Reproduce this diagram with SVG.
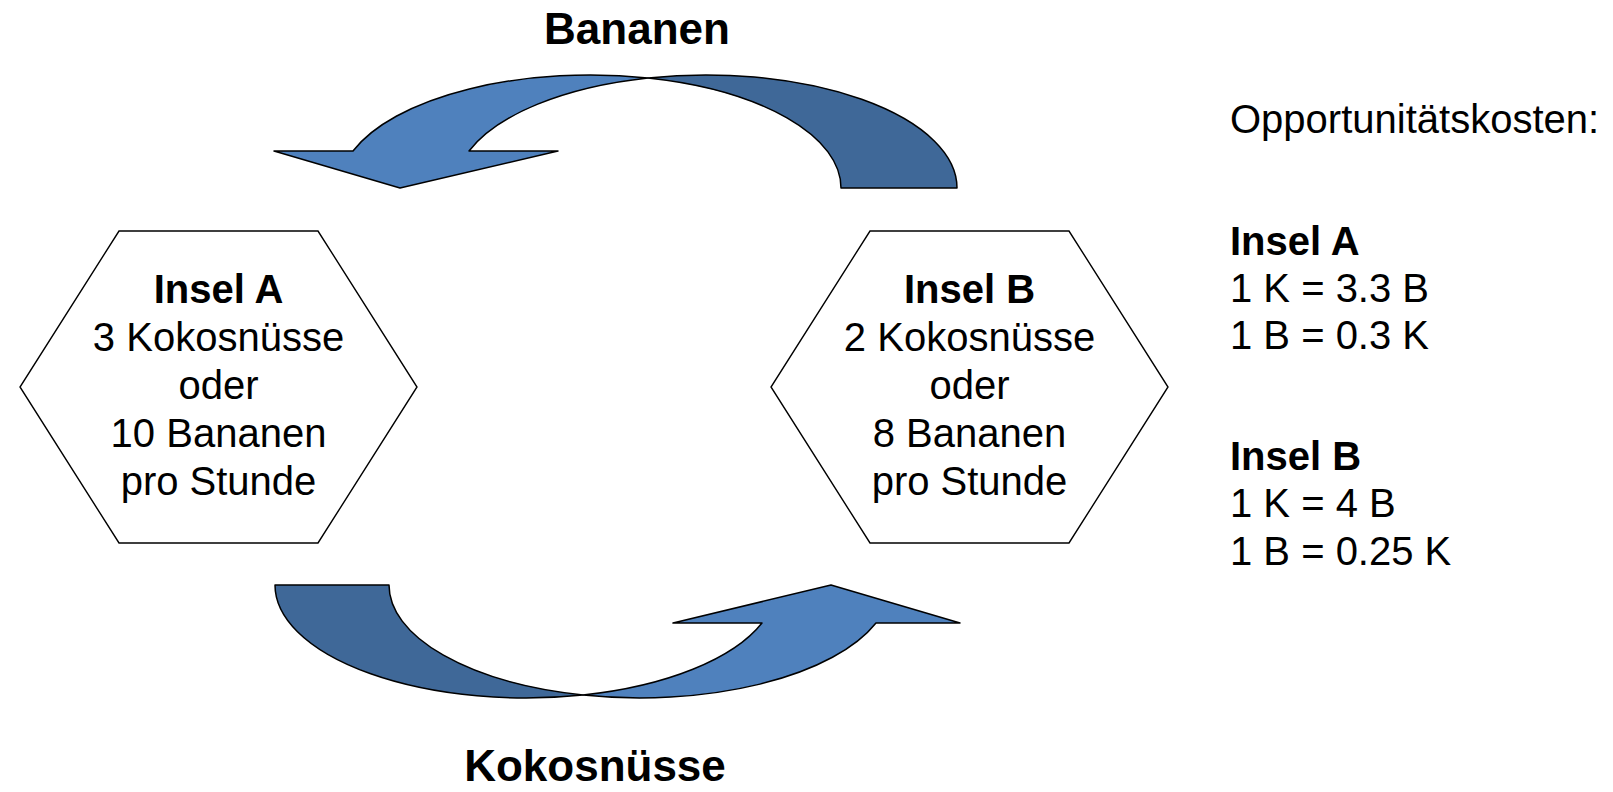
<svg xmlns="http://www.w3.org/2000/svg" width="1613" height="792" viewBox="0 0 1613 792">
<style>
text{font-family:"Liberation Sans",Arial,sans-serif;fill:#000}
.t{font-size:40px}
.c{text-anchor:middle}
.b{font-weight:bold}
.lbl{font-size:44px;font-weight:bold;text-anchor:middle}
.hex{fill:#fff;stroke:#000;stroke-width:1.4}
.light{fill:#4F81BD;stroke:#000;stroke-width:1.5;stroke-linejoin:round}
.dark{fill:#3F6898;stroke:#000;stroke-width:1.5;stroke-linejoin:round}
</style>
<rect width="1613" height="792" fill="#fff"/>
<g id="connectors">
  <g id="arrow-bananen">
    <path class="dark" d="M957,188 A251,113 0 0 0 648,78 A251,113 0 0 1 841,188 Z"/>
    <path class="light" d="M648,78 A251,113 0 0 0 353,151 L274,151 L400,188 L558,151 L469,151 A251,113 0 0 1 648,78 Z"/>
  </g>
  <g id="arrow-kokos">
    <path class="dark" d="M275,585 A251,113 0 0 0 583,695 A251,113 0 0 1 389,585 Z"/>
    <path class="light" d="M583,695 A251,113 0 0 0 876,623 L960,623 L831,585 L673,623 L762,623 A251,113 0 0 1 583,695 Z"/>
  </g>
  <text class="lbl" x="637" y="44">Bananen</text>
  <text class="lbl" x="595" y="781">Kokosnüsse</text>
</g>
<g id="insel-a">
  <polygon class="hex" points="119,231 318,231 417,387 318,543 119,543 20,387"/>
  <text class="t c b" x="218.5" y="303">Insel A</text>
  <text class="t c" x="218.5" y="351">3 Kokosnüsse</text>
  <text class="t c" x="218.5" y="399">oder</text>
  <text class="t c" x="218.5" y="447">10 Bananen</text>
  <text class="t c" x="218.5" y="495">pro Stunde</text>
</g>
<g id="insel-b">
  <polygon class="hex" points="870,231 1069,231 1168,387 1069,543 870,543 771,387"/>
  <text class="t c b" x="969.5" y="303">Insel B</text>
  <text class="t c" x="969.5" y="351">2 Kokosnüsse</text>
  <text class="t c" x="969.5" y="399">oder</text>
  <text class="t c" x="969.5" y="447">8 Bananen</text>
  <text class="t c" x="969.5" y="495">pro Stunde</text>
</g>
<g id="opportunitaetskosten">
  <text class="t" x="1230" y="133">Opportunitätskosten:</text>
  <text class="t b" x="1230" y="255">Insel A</text>
  <text class="t" x="1230" y="302">1 K = 3.3 B</text>
  <text class="t" x="1230" y="349">1 B = 0.3 K</text>
  <text class="t b" x="1230" y="470">Insel B</text>
  <text class="t" x="1230" y="517">1 K = 4 B</text>
  <text class="t" x="1230" y="565">1 B = 0.25 K</text>
</g>
</svg>
